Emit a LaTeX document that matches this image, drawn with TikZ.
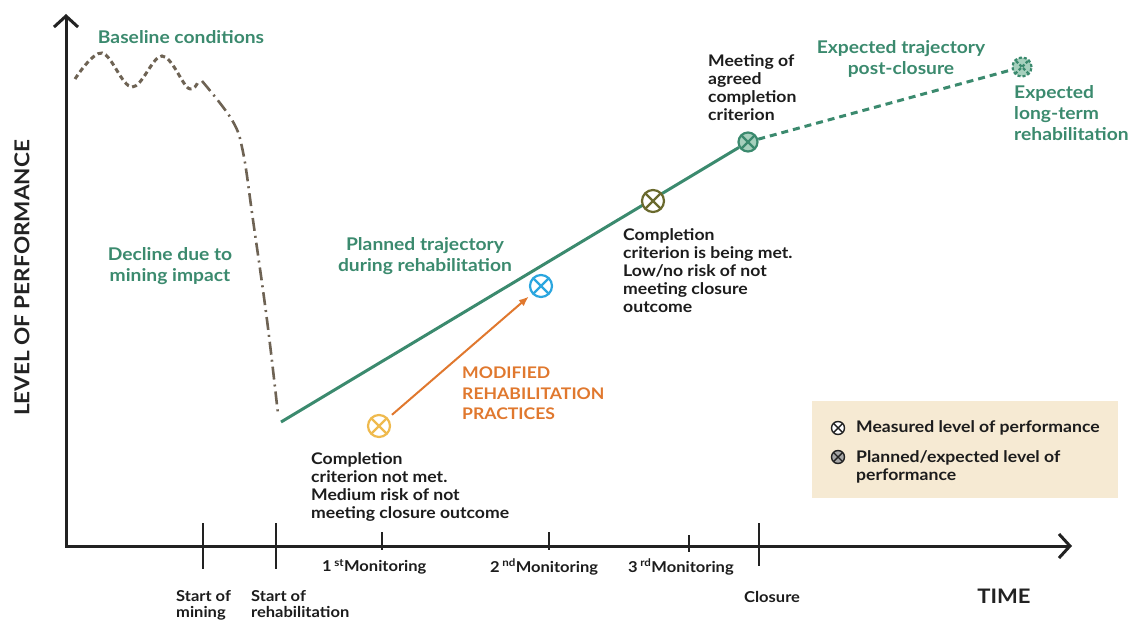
\documentclass[tikz,border=0pt]{standalone}
\usepackage{fontspec}
\setmainfont{Lato}[FakeStretch=1.1]
\usepackage{xcolor}
\usetikzlibrary{arrows.meta}

\definecolor{axisgray}{HTML}{222222}
\definecolor{minebrown}{HTML}{6E6354}
\definecolor{rehabgreen}{HTML}{3B8A6E}
\definecolor{lightgreen}{HTML}{A6D0BD}
\definecolor{modorange}{HTML}{E0782E}
\definecolor{lowyellow}{HTML}{EFBA4E}
\definecolor{midblue}{HTML}{2BA6DF}
\definecolor{okolive}{HTML}{6A6A2E}
\definecolor{legendbg}{HTML}{F6EAD3}
\definecolor{notetext}{HTML}{1C1C1C}

\begin{document}
\begin{tikzpicture}[x=1pt, y=-1pt,
    axis/.style={line width=3pt, draw=axisgray},
    tickmark/.style={line width=1.5pt, draw=axisgray},
    greenlabel/.style={text=rehabgreen, font=\fontsize{17.5}{21}\selectfont\bfseries, align=center, inner sep=0pt},
    note/.style={text=notetext, font=\fontsize{16}{18}\selectfont\bfseries, align=left, anchor=north west, inner sep=0pt},
    ticklabel/.style={text=notetext, font=\fontsize{15}{16}\selectfont\bfseries, align=left, inner sep=0pt},
    level/.style={circle, draw=#1, fill=white, line width=2.2pt, minimum size=22pt, inner sep=0pt,
      path picture={\draw[#1, line width=2.2pt] (path picture bounding box.north west) -- (path picture bounding box.south east)
        (path picture bounding box.north east) -- (path picture bounding box.south west);}},
    legmark/.style={circle, draw=axisgray, fill=#1, line width=1.4pt, minimum size=13pt, inner sep=0pt,
      path picture={\draw[axisgray, line width=1.4pt] (path picture bounding box.north west) -- (path picture bounding box.south east)
        (path picture bounding box.north east) -- (path picture bounding box.south west);}},
    plan/.style={draw=rehabgreen, line width=3pt},
    modarrow/.style={draw=modorange, line width=2pt, -{Latex[length=10pt,width=8pt]}, shorten <=5pt, shorten >=4pt}]
    \useasboundingbox (0,0) rectangle (1129,620);

    % axes
    \coordinate (ytop) at (66,14);
    \coordinate (O) at (66,546);
    \coordinate (xend) at (1072,546);
    \draw[axis, {Straight Barb[length=11pt,width=24pt]}-{Straight Barb[length=11pt,width=24pt]}] (ytop) -- (O) -- (xend);
    \foreach \tx/\ta/\tb in {203/523/569, 276/523/569, 382/532/550, 549/532/550, 689/535/552, 759/523/566}
      \draw[tickmark] (\tx,\ta) -- (\tx,\tb);

    \node[rotate=90, font=\fontsize{20.5}{22}\selectfont\bfseries, text=axisgray, inner sep=0pt] (ylabel) at (22,278) {LEVEL OF PERFORMANCE};
    \node[font=\fontsize{20}{22}\selectfont\bfseries, text=axisgray, inner sep=0pt] (xlabel) at (1004,596) {TIME};

    % baseline and decline
    \draw[minebrown, line width=3pt, dash pattern=on 5pt off 3.5pt]
      plot[smooth, tension=0.6] coordinates {(75,79) (102,53) (132,87) (162,56) (188,88) (198,82)};
    \draw[minebrown, line width=2.6pt, dash pattern=on 13pt off 5pt on 2pt off 5pt]
      plot[smooth, tension=0.6] coordinates {(202,81) (232,120) (243,152) (253,220) (267,320) (278,414)};

    % trajectories
    \coordinate (rehabstart) at (281,422);
    \node[level=rehabgreen, fill=lightgreen, minimum size=19pt] (target) at (748,142) {};
    \node[level=rehabgreen, fill=lightgreen, minimum size=19pt, dash pattern=on 3pt off 2pt] (longterm) at (1022,67) {};
    \draw[plan] (rehabstart) -- (target);
    \draw[plan, dash pattern=on 7pt off 5pt] (target) -- (longterm);

    \node[level=lowyellow] (first) at (379,426) {};
    \node[level=midblue] (second) at (541,286) {};
    \node[level=okolive] (third) at (653,201) {};
    \draw[modarrow] (first) -- (second);

    % labels
    \node[greenlabel] (baseline) at (181,37) {Baseline conditions};
    \node[greenlabel] (decline) at (170,266) {Decline due to\\mining impact};
    \node[greenlabel] (planned) at (425,256) {Planned trajectory\\during rehabilitation};
    \node[greenlabel] (postclose) at (901,59) {Expected trajectory\\post-closure};
    \node[greenlabel, align=left, anchor=north west] (longlabel) at (1014,85) {Expected\\long-term\\rehabilitation};
    \node[text=modorange, font=\fontsize{16}{20.5}\selectfont\bfseries, align=left, anchor=north west, inner sep=0pt] (modified) at (462,367)
      {MODIFIED\\REHABILITATION\\PRACTICES};

    \node[note] (lownote) at (311,452) {Completion\\criterion not met.\\Medium risk of not\\meeting closure outcome};
    \node[note] (oknote) at (623,228) {Completion\\criterion is being met.\\Low/no risk of not\\meeting closure\\outcome};
    \node[note] (meetnote) at (708,54) {Meeting of\\agreed\\completion\\criterion};

    % time axis labels
    \node[ticklabel, anchor=north west] (minestart) at (176,590) {Start of\\mining};
    \node[ticklabel, anchor=north west] (rehablabel) at (251,590) {Start of\\rehabilitation};
    \node[ticklabel, anchor=west] (mon1) at (322,567) {1\,\textsuperscript{st}Monitoring};
    \node[ticklabel, anchor=west] (mon2) at (490,567) {2\,\textsuperscript{nd}Monitoring};
    \node[ticklabel, anchor=west] (mon3) at (628,567) {3\,\textsuperscript{rd}Monitoring};
    \node[ticklabel, anchor=west] (closure) at (744,597) {Closure};

    % legend
    \fill[legendbg] (812,401) rectangle (1118,498);
    \node[legmark=white] (legmeasured) at (838,428) {};
    \node[legmark=black!35] (legplanned) at (838,457) {};
    \node[note, anchor=west] (measuredtext) at (856,428) {Measured level of performance};
    \node[note] (plannedtext) at (856,450) {Planned/expected level of\\performance};
\end{tikzpicture}
\end{document}
